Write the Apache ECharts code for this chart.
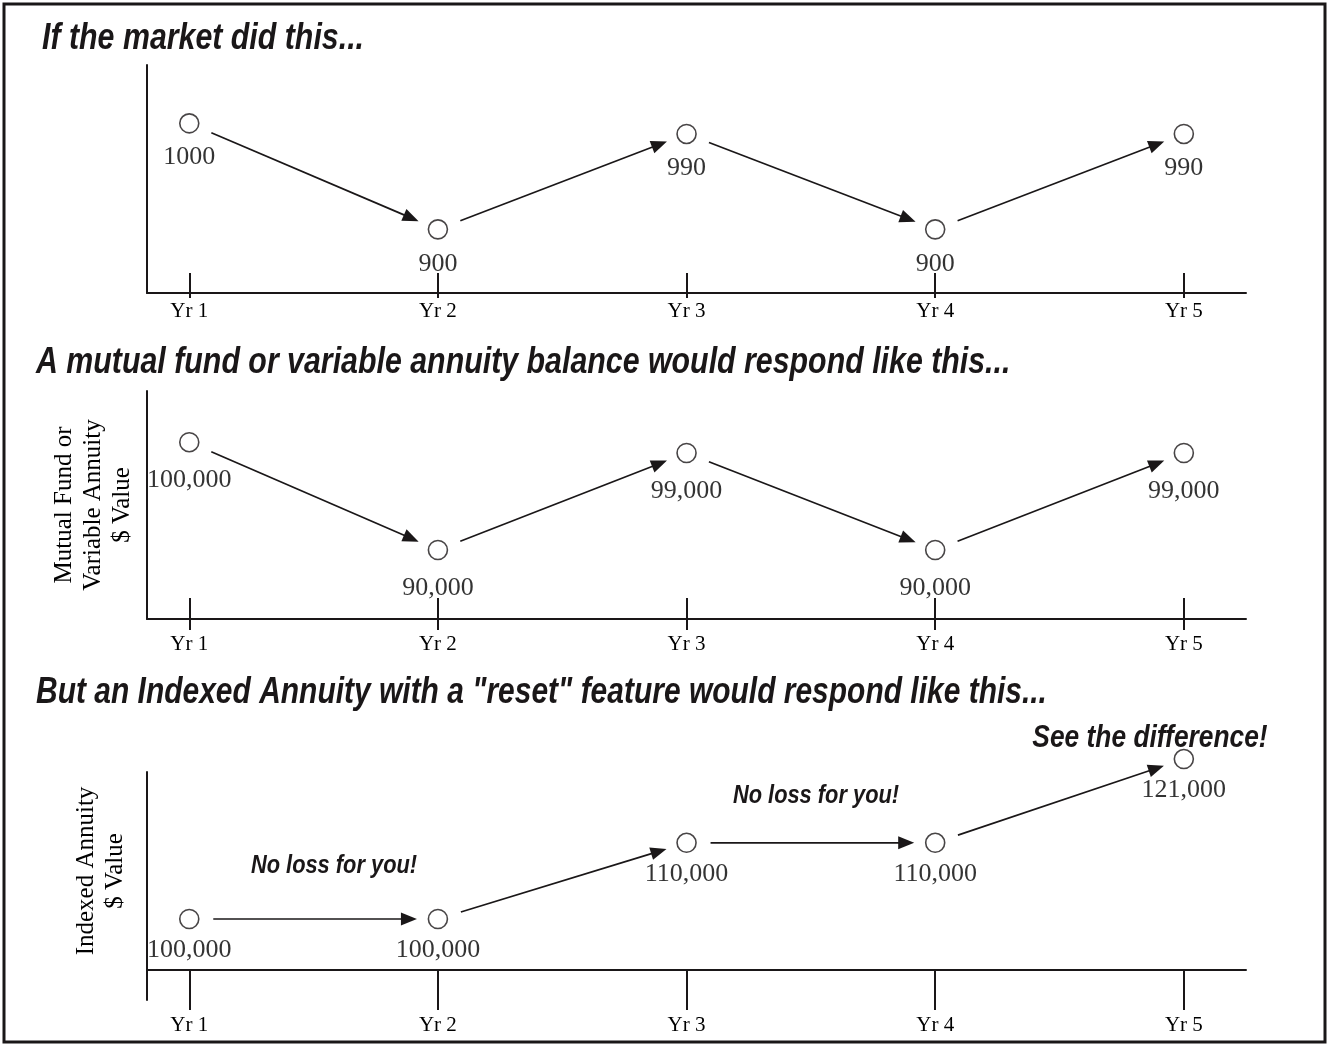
<!DOCTYPE html>
<html>
<head>
<meta charset="utf-8">
<title>Market swings vs. indexed annuity reset</title>
<script src="https://cdn.jsdelivr.net/npm/echarts@6/dist/echarts.min.js"></script>
<style>
  html, body { margin: 0; padding: 0; background: #ffffff; }
  #chart { width: 1329px; height: 1045px; }
</style>
</head>
<body>
<div id="chart"></div>
<script>
// ---- data ----
const years = ['Yr 1', 'Yr 2', 'Yr 3', 'Yr 4', 'Yr 5'];
const marketValues = [1000, 900, 990, 900, 990];
const fundValues = [100000, 90000, 99000, 90000, 99000];
const indexedValues = [100000, 100000, 110000, 110000, 121000];

const titles = [
  'If the market did this...',
  'A mutual fund or variable annuity balance would respond like this...',
  'But an Indexed Annuity with a "reset" feature would respond like this...'
];
const fundAxisName = 'Mutual Fund or\nVariable Annuity\n$ Value';
const indexedAxisName = 'Indexed Annuity\n$ Value';
const noLossNote = 'No loss for you!';
const differenceNote = 'See the difference!';

// ---- styling ----
const INK = '#1a1718';
const SERIF = '"Liberation Serif", "Times New Roman", Times, serif';
const SANS = '"Liberation Sans", Arial, Helvetica, sans-serif';
const X_MIN = -0.17, X_MAX = 4.25;
const yearIdx = years.map((_, i) => i);

const withCommas = v => v.toLocaleString('en-US');
const plain = v => String(v);

function yearAxis(gridIndex, o) {
  return {
    type: 'value', gridIndex, position: 'bottom', min: X_MIN, max: X_MAX,
    axisLine: { show: o.line, onZero: false, lineStyle: { color: INK, width: 2 } },
    axisTick: { show: o.tickLen > 0, inside: !!o.inside, length: o.tickLen,
                customValues: yearIdx, lineStyle: { color: INK, width: 2 } },
    axisLabel: { show: !!o.labels, customValues: yearIdx, formatter: v => years[v],
                 margin: o.margin || 8, fontFamily: SERIF, fontSize: 21, color: '#000' },
    splitLine: { show: false }
  };
}

function valueAxis(gridIndex, min, max, o) {
  o = o || {};
  return {
    type: 'value', gridIndex, min, max,
    axisLine: { show: o.line !== false, onZero: false, lineStyle: { color: INK, width: 2 } },
    axisTick: { show: false }, axisLabel: { show: false }, splitLine: { show: false },
    name: o.name || '', nameLocation: 'middle', nameRotate: 90, nameGap: o.nameGap || 12,
    nameTextStyle: { fontFamily: SERIF, fontSize: 25, color: '#000', lineHeight: 29, align: 'center' }
  };
}

// Arrow between consecutive points, pulled back from both circles
const START_GAP = 24, END_GAP = 21, HEAD_LEN = 16, HEAD_HALF = 6.5;
function arrowSeries(values, xi, yi) {
  const segs = [];
  for (let i = 0; i < values.length - 1; i++) segs.push([i, values[i], i + 1, values[i + 1]]);
  return {
    type: 'custom', xAxisIndex: xi, yAxisIndex: yi, data: segs, silent: true, z: 2,
    encode: { x: [0, 2], y: [1, 3] },
    renderItem(params, api) {
      const a = api.coord([api.value(0), api.value(1)]);
      const b = api.coord([api.value(2), api.value(3)]);
      const dx = b[0] - a[0], dy = b[1] - a[1];
      const len = Math.hypot(dx, dy) || 1;
      const ux = dx / len, uy = dy / len, nx = -uy, ny = ux;
      const s = [a[0] + ux * START_GAP, a[1] + uy * START_GAP];
      const tip = [b[0] - ux * END_GAP, b[1] - uy * END_GAP];
      const base = [tip[0] - ux * HEAD_LEN, tip[1] - uy * HEAD_LEN];
      return {
        type: 'group',
        children: [
          { type: 'line', shape: { x1: s[0], y1: s[1], x2: base[0] + ux * 2, y2: base[1] + uy * 2 },
            style: { stroke: INK, lineWidth: 1.7 } },
          { type: 'polygon',
            shape: { points: [tip, [base[0] + nx * HEAD_HALF, base[1] + ny * HEAD_HALF],
                                   [base[0] - nx * HEAD_HALF, base[1] - ny * HEAD_HALF]] },
            style: { fill: INK } }
        ]
      };
    }
  };
}

function pointSeries(values, xi, yi, fmt, dist) {
  return {
    type: 'scatter', xAxisIndex: xi, yAxisIndex: yi, clip: false, silent: true, z: 3,
    data: values.map((v, i) => [i, v]),
    symbol: 'circle', symbolSize: 19,
    itemStyle: { color: '#ffffff', borderColor: INK, borderWidth: 1.6 },
    label: { show: true, position: 'bottom', distance: dist,
             formatter: p => fmt(p.value[1]),
             fontFamily: SERIF, fontSize: 26, color: '#000' }
  };
}

function headline(text, x, y, size, align, sx) {
  return {
    type: 'text', x, y, scaleX: sx || 0.83, z: 10,
    style: { text, fontFamily: SANS, fontStyle: 'italic', fontWeight: 'bold',
             fontSize: size, fill: INK, align: align || 'left', verticalAlign: 'middle' }
  };
}

const option = {
  animation: false,
  backgroundColor: '#ffffff',
  grid: [
    { left: 147, right: 83, top: 65, bottom: 752 },    // market
    { left: 147, right: 83, top: 391, bottom: 426 },   // mutual fund
    { left: 147, right: 83, top: 772, bottom: 75 },    // indexed annuity
    { left: 147, width: 10, top: 772, bottom: 45 }     // indexed annuity vertical axis line
  ],
  xAxis: [
    yearAxis(0, { line: true, inside: true, tickLen: 20, labels: true, margin: 8 }),
    yearAxis(0, { line: false, tickLen: 5 }),
    yearAxis(1, { line: true, inside: true, tickLen: 21, labels: true, margin: 15 }),
    yearAxis(1, { line: false, tickLen: 11 }),
    yearAxis(2, { line: true, tickLen: 40, labels: true, margin: 45 }),
    { type: 'value', gridIndex: 3, show: false }
  ],
  yAxis: [
    valueAxis(0, 840, 1055),
    valueAxis(1, 83600, 104750, { name: fundAxisName, nameGap: 10 }),
    valueAxis(2, 93300, 119300, { line: false, name: indexedAxisName, nameGap: 17 }),
    valueAxis(3, 0, 1)
  ],
  series: [
    arrowSeries(marketValues, 0, 0),
    pointSeries(marketValues, 0, 0, plain, 11),
    arrowSeries(fundValues, 2, 1),
    pointSeries(fundValues, 2, 1, withCommas, 15),
    arrowSeries(indexedValues, 4, 2),
    pointSeries(indexedValues, 4, 2, withCommas, 8)
  ],
  graphic: [
    { type: 'rect', shape: { x: 4, y: 4, width: 1321, height: 1038 },
      style: { fill: null, stroke: INK, lineWidth: 3 }, z: 0 },
    headline(titles[0], 42, 39, 37, 'left', 0.82),
    headline(titles[1], 36, 363, 37, 'left', 0.82),
    headline(titles[2], 36, 693, 37, 'left', 0.81),
    headline(noLossNote, 334, 866, 26, 'center', 0.84),
    headline(noLossNote, 816, 796, 26, 'center', 0.84),
    headline(differenceNote, 1150, 738, 31, 'center', 0.85)
  ]
};

const chart = echarts.init(document.getElementById('chart'), null, { renderer: 'canvas' });
chart.setOption(option);
</script>
</body>
</html>
